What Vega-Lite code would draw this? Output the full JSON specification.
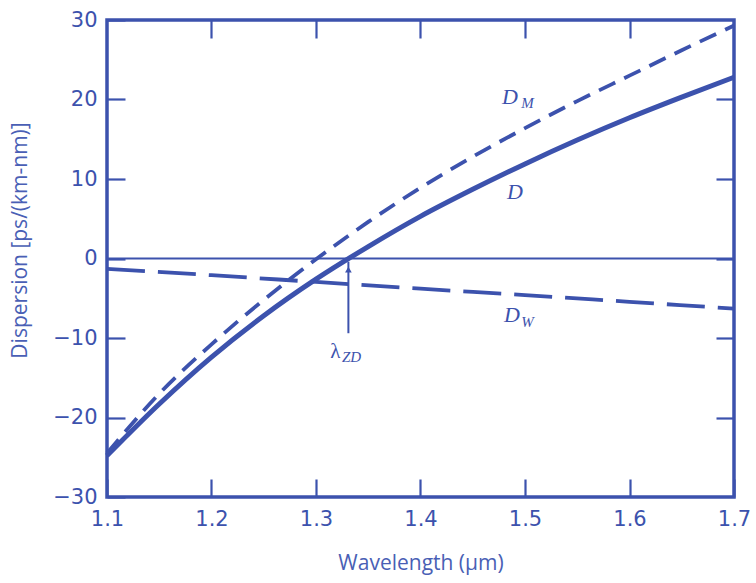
{
  "$schema": "https://vega.github.io/schema/vega-lite/v6.json",
  "width": 627,
  "height": 477,
  "autosize": {"type": "none"},
  "padding": {"left": 107, "top": 20, "right": 22, "bottom": 86},
  "background": "white",
  "config": {
    "view": {"stroke": "#3c52ad", "strokeWidth": 3.5},
    "axis": {"grid": false, "domain": false, "tickColor": "#3c52ad", "tickWidth": 2.2, "tickSize": -18,
             "labelColor": "#3c52ad", "labelFont": "DejaVu Sans", "labelFontSize": 21,
             "titleColor": "#4a5fb5", "titleFont": "Open Sans", "titleFontWeight": "normal", "titleFontSize": 21}
  },
  "datasets": {
    "curves": [
      {"wl": 1.10, "val": -24.8, "s": "D"}, {"wl": 1.15, "val": -18.3, "s": "D"}, {"wl": 1.20, "val": -12.4, "s": "D"},
      {"wl": 1.25, "val": -7.2, "s": "D"}, {"wl": 1.30, "val": -2.6, "s": "D"}, {"wl": 1.35, "val": 1.5, "s": "D"},
      {"wl": 1.40, "val": 5.3, "s": "D"}, {"wl": 1.45, "val": 8.7, "s": "D"}, {"wl": 1.50, "val": 11.9, "s": "D"},
      {"wl": 1.55, "val": 14.9, "s": "D"}, {"wl": 1.60, "val": 17.7, "s": "D"}, {"wl": 1.65, "val": 20.3, "s": "D"},
      {"wl": 1.70, "val": 22.8, "s": "D"},
      {"wl": 1.10, "val": -24.5, "s": "DM"}, {"wl": 1.15, "val": -17.0, "s": "DM"}, {"wl": 1.20, "val": -10.8, "s": "DM"},
      {"wl": 1.25, "val": -5.2, "s": "DM"}, {"wl": 1.30, "val": -0.1, "s": "DM"}, {"wl": 1.35, "val": 4.6, "s": "DM"},
      {"wl": 1.40, "val": 8.9, "s": "DM"}, {"wl": 1.45, "val": 12.8, "s": "DM"}, {"wl": 1.50, "val": 16.4, "s": "DM"},
      {"wl": 1.55, "val": 19.8, "s": "DM"}, {"wl": 1.60, "val": 23.0, "s": "DM"}, {"wl": 1.65, "val": 26.2, "s": "DM"},
      {"wl": 1.70, "val": 29.3, "s": "DM"},
      {"wl": 1.10, "val": -1.3, "s": "DW"}, {"wl": 1.20, "val": -2.1, "s": "DW"}, {"wl": 1.30, "val": -2.95, "s": "DW"},
      {"wl": 1.40, "val": -3.8, "s": "DW"}, {"wl": 1.50, "val": -4.6, "s": "DW"}, {"wl": 1.60, "val": -5.45, "s": "DW"},
      {"wl": 1.70, "val": -6.3, "s": "DW"}
    ],
    "bigLabels": [
      {"wl": 1.4856, "val": 20.3, "t": "D"},
      {"wl": 1.4904, "val": 8.4, "t": "D"},
      {"wl": 1.4876, "val": -7.1, "t": "D"}
    ],
    "subLabels": [
      {"wl": 1.5025, "val": 19.5, "t": "M"},
      {"wl": 1.5025, "val": -8.0, "t": "W"},
      {"wl": 1.3340, "val": -12.4, "t": "ZD"}
    ],
    "lambda": [{"wl": 1.3185, "val": -11.8, "t": "λ"}],
    "arrow": [{"wl": 1.331, "lo": -9.4, "hi": -0.4}]
  },
  "resolve": {"axis": {"x": "independent", "y": "independent"}},
  "layer": [
    {
      "data": {"values": [{"z": 0}]},
      "mark": {"type": "rule", "color": "#3c52ad", "strokeWidth": 2.2},
      "encoding": {"y": {"field": "z", "type": "quantitative", "scale": {"domain": [-30, 30]}, "axis": null}}
    },
    {
      "data": {"name": "curves"},
      "transform": [{"filter": "datum.s === 'D'"}],
      "mark": {"type": "line", "color": "#3c52ad", "strokeWidth": 5, "interpolate": "monotone"},
      "encoding": {
        "x": {"field": "wl", "type": "quantitative", "scale": {"domain": [1.1, 1.7], "nice": false},
              "axis": {"orient": "bottom", "values": [1.1, 1.2, 1.3, 1.4, 1.5, 1.6, 1.7], "format": ".1f",
                       "labelPadding": 29, "title": "Wavelength (µm)", "titleY": 66, "titleBaseline": "middle",
                       "labelFlush": false}},
        "y": {"field": "val", "type": "quantitative", "scale": {"domain": [-30, 30], "nice": false},
              "axis": {"orient": "left", "values": [-30, -20, -10, 0, 10, 20, 30], "labelPadding": 28,
                       "format": "d", "labelFlush": false, "labelBaseline": "middle",
                       "title": "Dispersion [ps/(km-nm)]", "titleX": -87, "titleY": 220, "titleBaseline": "middle"}}
      }
    },
    {
      "data": {"name": "curves"},
      "transform": [{"filter": "datum.s === 'DM'"}],
      "mark": {"type": "line", "color": "#3c52ad", "strokeWidth": 3.8, "strokeDash": [18, 10], "interpolate": "monotone"},
      "encoding": {
        "x": {"field": "wl", "type": "quantitative", "scale": {"domain": [1.1, 1.7], "nice": false},
              "axis": {"orient": "top", "values": [1.2, 1.3, 1.4, 1.5, 1.6], "labels": false, "title": null}},
        "y": {"field": "val", "type": "quantitative", "scale": {"domain": [-30, 30], "nice": false},
              "axis": {"orient": "right", "values": [-20, -10, 0, 10, 20], "labels": false, "title": null}}
      }
    },
    {
      "data": {"name": "curves"},
      "transform": [{"filter": "datum.s === 'DW'"}],
      "mark": {"type": "line", "color": "#3c52ad", "strokeWidth": 3.8, "strokeDash": [38, 13], "interpolate": "monotone"},
      "encoding": {
        "x": {"field": "wl", "type": "quantitative", "axis": null},
        "y": {"field": "val", "type": "quantitative", "axis": null}
      }
    },
    {
      "data": {"name": "arrow"},
      "mark": {"type": "rule", "color": "#3c52ad", "strokeWidth": 2},
      "encoding": {
        "x": {"field": "wl", "type": "quantitative", "axis": null},
        "y": {"field": "lo", "type": "quantitative", "axis": null},
        "y2": {"field": "hi"}
      }
    },
    {
      "data": {"name": "arrow"},
      "mark": {"type": "point", "shape": "triangle-up", "filled": true, "color": "#3c52ad", "size": 45, "opacity": 1},
      "encoding": {
        "x": {"field": "wl", "type": "quantitative", "axis": null},
        "y": {"datum": -1.4, "type": "quantitative", "axis": null}
      }
    },
    {
      "data": {"name": "bigLabels"},
      "mark": {"type": "text", "font": "Liberation Serif", "fontStyle": "italic", "fontSize": 22, "color": "#3c52ad", "align": "center", "baseline": "middle"},
      "encoding": {
        "x": {"field": "wl", "type": "quantitative", "axis": null},
        "y": {"field": "val", "type": "quantitative", "axis": null},
        "text": {"field": "t"}
      }
    },
    {
      "data": {"name": "subLabels"},
      "mark": {"type": "text", "font": "Liberation Serif", "fontStyle": "italic", "fontSize": 15, "color": "#3c52ad", "align": "center", "baseline": "middle"},
      "encoding": {
        "x": {"field": "wl", "type": "quantitative", "axis": null},
        "y": {"field": "val", "type": "quantitative", "axis": null},
        "text": {"field": "t"}
      }
    },
    {
      "data": {"name": "lambda"},
      "mark": {"type": "text", "font": "Liberation Serif", "fontSize": 21, "color": "#3c52ad", "align": "center", "baseline": "middle"},
      "encoding": {
        "x": {"field": "wl", "type": "quantitative", "axis": null},
        "y": {"field": "val", "type": "quantitative", "axis": null},
        "text": {"field": "t"}
      }
    }
  ]
}
